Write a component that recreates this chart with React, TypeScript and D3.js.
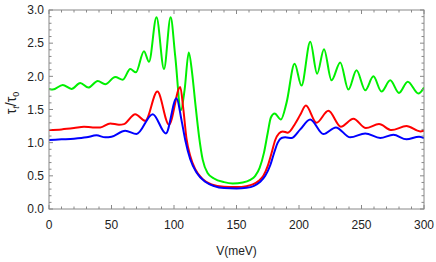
import React from "react";
import * as d3 from "d3";

const greenV = [0, 3, 11, 18, 25, 31.5, 39, 45, 53, 59, 65, 69.5, 76, 80, 86, 92, 97.3, 101, 105.5, 108.5, 111.8, 114.5, 117, 120, 123, 127, 132, 140, 147, 155, 161, 165, 168.5, 172, 175, 177.5, 180.5, 185.5, 190, 196.5, 202, 209, 214.5, 220, 226, 233, 239.5, 246, 253, 259.5, 266, 273, 280, 287, 295.5, 300];
const greenY = [1.81, 1.8, 1.87, 1.81, 1.9, 1.83, 1.93, 1.88, 1.99, 1.95, 2.11, 2.06, 2.38, 2.22, 2.89, 2.11, 2.89, 2.3, 1.49, 1.8, 2.36, 2.05, 1.6, 1.1, 0.74, 0.54, 0.46, 0.405, 0.385, 0.4, 0.44, 0.5, 0.62, 0.85, 1.15, 1.38, 1.44, 1.35, 1.6, 2.19, 1.86, 2.52, 2.04, 2.41, 1.94, 2.21, 1.8, 2.09, 1.79, 2.0, 1.77, 1.94, 1.75, 1.92, 1.74, 1.83];

const redV = [0, 10, 20, 28, 35, 41, 49, 56, 60, 69, 77, 86.7, 96, 105, 107.5, 110, 113, 117, 123, 130, 140, 150, 158, 163, 167.5, 171.5, 175, 178, 181, 184, 187, 191, 197, 201, 205.5, 214, 223.5, 233.5, 243.5, 253.5, 264, 274, 286, 297, 300];
const redY = [1.19, 1.2, 1.22, 1.24, 1.23, 1.23, 1.29, 1.27, 1.28, 1.43, 1.33, 1.77, 1.27, 1.84, 1.5, 1.06, 0.8, 0.6, 0.45, 0.37, 0.335, 0.33, 0.345, 0.37, 0.42, 0.5, 0.65, 0.84, 1.04, 1.14, 1.17, 1.15, 1.29, 1.42, 1.56, 1.3, 1.48, 1.24, 1.36, 1.22, 1.28, 1.19, 1.25, 1.17, 1.18];

const blueV = [0, 10, 20, 30, 38, 45, 50, 61, 70, 83, 93.5, 102, 106, 109, 113, 118, 125, 132, 140, 150, 158, 164, 169, 173, 177, 180, 183, 186, 189, 194, 201, 209, 219.5, 229.5, 241, 253, 265, 275.5, 286, 296, 300];
const blueY = [1.04, 1.05, 1.06, 1.08, 1.11, 1.08, 1.09, 1.18, 1.13, 1.43, 1.14, 1.67, 1.34, 1.04, 0.75, 0.55, 0.41, 0.345, 0.315, 0.31, 0.32, 0.35, 0.41, 0.5, 0.66, 0.84, 1.0, 1.07, 1.08, 1.07, 1.2, 1.35, 1.13, 1.23, 1.08, 1.14, 1.07, 1.12, 1.05, 1.09, 1.07];

const xMajor = [0, 50, 100, 150, 200, 250, 300];
const yMajor = [0, 0.5, 1.0, 1.5, 2.0, 2.5, 3.0];

const series = [
  { name: "green", xs: greenV, ys: greenY, color: "#00f000" },
  { name: "red", xs: redV, ys: redY, color: "#ff0000" },
  { name: "blue", xs: blueV, ys: blueY, color: "#0000ff" },
];

export default function App() {
  const W = 436, H = 262;
  const L = 49, R = 424, T = 10, B = 209;
  const x = d3.scaleLinear().domain([0, 300]).range([L, R]);
  const y = d3.scaleLinear().domain([0, 3]).range([B, T]);
  const line = d3
    .line<[number, number]>()
    .x((d) => x(d[0]))
    .y((d) => y(d[1]))
    .curve(d3.curveMonotoneX);

  const xMinor = d3.range(0, 301, 10);
  const yMinor = d3.range(0, 31, 1).map((v) => v / 10);
  const frame = "#888";
  const font = "'Liberation Sans', Arial, sans-serif";

  return (
    <svg width={W} height={H} style={{ position: "absolute", left: 0, top: 0 }}>
      <rect x={0} y={0} width={W} height={H} fill="#fff" />
      <defs>
        <clipPath id="plot">
          <rect x={L} y={T} width={R - L} height={B - T} />
        </clipPath>
      </defs>
      <g clipPath="url(#plot)">
        {series.map((s) => (
          <path
            key={s.name}
            d={line(s.xs.map((v, i) => [v, s.ys[i]] as [number, number])) || ""}
            fill="none"
            stroke={s.color}
            strokeWidth={2}
            strokeLinejoin="round"
          />
        ))}
      </g>
      <rect x={L} y={T} width={R - L} height={B - T} fill="none" stroke={frame} strokeWidth={1} />
      {xMinor.map((v) => {
        const major = v % 50 === 0;
        const len = major ? 4 : 2.5;
        return (
          <g key={"xt" + v} stroke={frame} strokeWidth={1}>
            <line x1={x(v)} x2={x(v)} y1={B} y2={B - len} />
            <line x1={x(v)} x2={x(v)} y1={T} y2={T + len} />
          </g>
        );
      })}
      {yMinor.map((v, i) => {
        const major = i % 5 === 0;
        const len = major ? 4 : 2.5;
        return (
          <g key={"yt" + i} stroke={frame} strokeWidth={1}>
            <line x1={L} x2={L + len} y1={y(v)} y2={y(v)} />
            <line x1={R} x2={R - len} y1={y(v)} y2={y(v)} />
          </g>
        );
      })}
      {xMajor.map((v) => (
        <text key={"xl" + v} x={x(v)} y={229} textAnchor="middle" fontSize={12} fontFamily={font} fill="#222">
          {v}
        </text>
      ))}
      {yMajor.map((v) => (
        <text key={"yl" + v} x={44} y={y(v) + 4.3} textAnchor="end" fontSize={12} fontFamily={font} fill="#222">
          {v.toFixed(1)}
        </text>
      ))}
      <text x={(L + R) / 2} y={255} textAnchor="middle" fontSize={12} fontFamily={font} fill="#222">
        V(meV)
      </text>
      <text
        transform={`translate(16,103) rotate(-90)`}
        textAnchor="middle"
        fontSize={14}
        fontFamily={font}
        fill="#222"
      >
        <tspan>τ</tspan>
        <tspan fontSize={9} fontStyle="italic" dy={3}>t</tspan>
        <tspan dy={-3}>/τ</tspan>
        <tspan fontSize={9} dy={3}>0</tspan>
      </text>
    </svg>
  );
}
